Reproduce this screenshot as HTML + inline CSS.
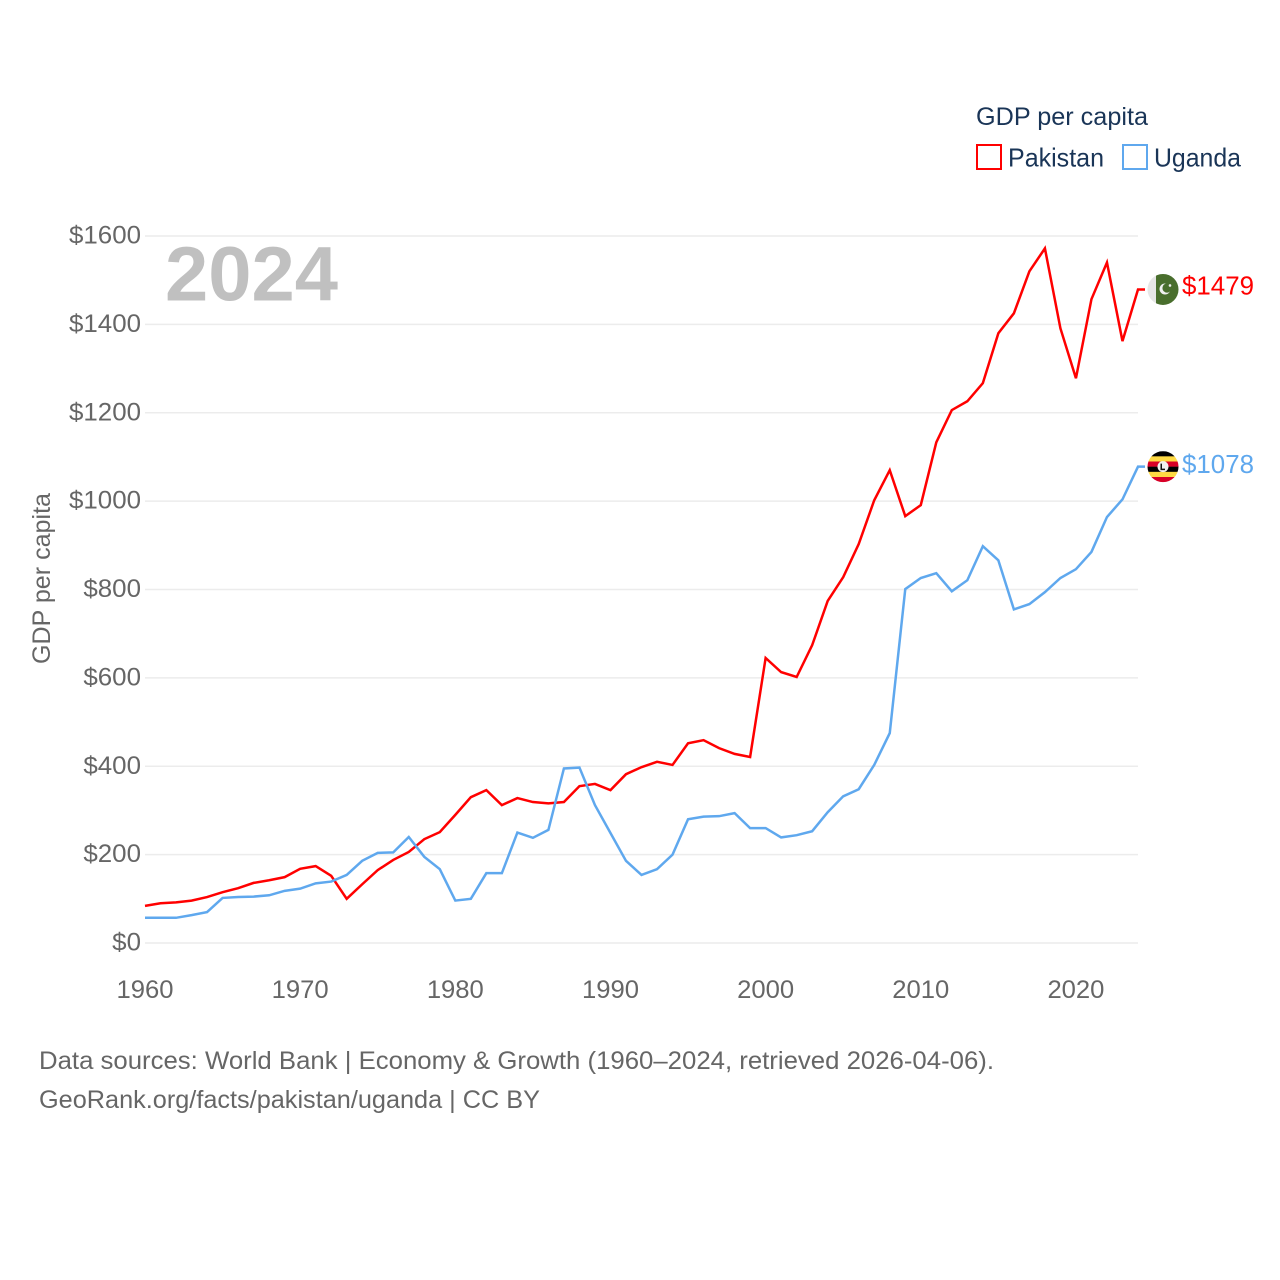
<!DOCTYPE html>
<html lang="en">
<head>
<meta charset="utf-8">
<title>GDP per capita: Pakistan and Uganda</title>
<style>
html,body{margin:0;padding:0;background:#fff}
svg{display:block}
text{font-family:"Liberation Sans",sans-serif}
</style>
</head>
<body>
<svg id="chart" width="1280" height="1280" viewBox="0 0 1280 1280" xmlns="http://www.w3.org/2000/svg">
  <rect x="0" y="0" width="1280" height="1280" fill="#fff"/>
  <g id="grid"></g>
  <g id="yticks"></g>
  <g id="xticks"></g>
  <text x="165" y="300.5" font-size="77" font-weight="700" fill="#c0c0c0" textLength="173" lengthAdjust="spacingAndGlyphs">2024</text>
  <text transform="translate(50 578.5) rotate(-90)" text-anchor="middle" font-size="25" fill="#666" textLength="171" lengthAdjust="spacingAndGlyphs">GDP per capita</text>
  <g id="series"></g>
  <g>
    <text x="976" y="125" font-size="25" fill="#1a3557" textLength="172" lengthAdjust="spacingAndGlyphs">GDP per capita</text>
    <g>
      <rect x="977" y="145" width="24" height="24" fill="none" stroke="#ff0000" stroke-width="2"/>
      <text x="1008" y="166.5" font-size="26" fill="#1a3557" textLength="96" lengthAdjust="spacingAndGlyphs">Pakistan</text>
    </g>
    <g>
      <rect x="1123" y="145" width="24" height="24" fill="none" stroke="#5fa8ee" stroke-width="2"/>
      <text x="1154" y="166.5" font-size="26" fill="#1a3557" textLength="87" lengthAdjust="spacingAndGlyphs">Uganda</text>
    </g>
  </g>
  <g>
    <text x="39" y="1069" font-size="25" fill="#666" textLength="955" lengthAdjust="spacingAndGlyphs">Data sources: World Bank | Economy &amp; Growth (1960–2024, retrieved 2026-04-06).</text>
    <text x="39" y="1108" font-size="25" fill="#666" textLength="501" lengthAdjust="spacingAndGlyphs">GeoRank.org/facts/pakistan/uganda | CC BY</text>
  </g>
</svg>
<script>
const startYear = 1960;
const yTickValues = [0, 200, 400, 600, 800, 1000, 1200, 1400, 1600];
const yTickLabels = ["$0", "$200", "$400", "$600", "$800", "$1000", "$1200", "$1400", "$1600"];
const xTickValues = [1960, 1970, 1980, 1990, 2000, 2010, 2020];
const xTickLabels = ["1960", "1970", "1980", "1990", "2000", "2010", "2020"];
const pakistanValues = [84,90,92,96,104,115,124,136,142,149,168,174,152,100,133,165,188,206,235,251,290,330,346,312,328,319,316,319,355,360,346,382,398,410,403,452,459,441,428,421,645,613,602,674,774,828,903,1002,1070,966,991,1133,1206,1226,1267,1380,1425,1520,1572,1391,1278,1457,1540,1362,1479];
const ugandaValues = [57,57,57,63,70,102,104,105,108,118,123,135,139,154,186,204,205,240,195,167,96,100,158,158,250,238,256,395,397,312,249,186,154,167,200,280,286,287,294,260,260,239,244,253,296,332,348,403,475,801,826,837,796,821,898,866,755,767,794,826,846,885,964,1004,1078];

const NS = "http://www.w3.org/2000/svg";
function xScale(year){ return 145 + (year - 1960) * (1138 - 145) / 64; }
function yScale(v){ return 943 - v * (943 - 236) / 1600; }
function make(tag, attrs, parent){
  const el = document.createElementNS(NS, tag);
  for (const k in attrs) el.setAttribute(k, attrs[k]);
  parent.appendChild(el);
  return el;
}

const gridG = document.getElementById("grid");
const yG = document.getElementById("yticks");
yTickValues.forEach(function(v, i){
  const line = make("line", {x1:145, x2:1138, y1:yScale(v), y2:yScale(v), stroke:"#ececec", "stroke-width":1.5}, gridG);
  
  
  const t = make("text", {x:141, y:yScale(v) + 7.5, "text-anchor":"end", "font-size":25, fill:"#666"}, yG);
  
  
  t.setAttribute('textLength', String(yTickLabels[i].length * 14.4));
  t.setAttribute('lengthAdjust', 'spacingAndGlyphs');
  t.textContent = yTickLabels[i];
});

const xG = document.getElementById("xticks");
xTickValues.forEach(function(y, i){
  const t = make("text", {x:xScale(y), y:998, "text-anchor":"middle", "font-size":25, fill:"#666"}, xG);
  
  
  t.setAttribute('textLength', '57');
  t.setAttribute('lengthAdjust', 'spacingAndGlyphs');
  t.textContent = xTickLabels[i];
});

function linePath(values){
  let d = "";
  values.forEach(function(v, i){
    d += (i ? "L" : "M") + xScale(startYear + i).toFixed(2) + " " + yScale(v).toFixed(2);
  });
  const last = values[values.length - 1];
  d += "L" + (xScale(startYear + values.length - 1) + 7).toFixed(2) + " " + yScale(last).toFixed(2);
  return d;
}

const seriesG = document.getElementById("series");
const pakLine = make("path", {d:linePath(pakistanValues), fill:"none", stroke:"#ff0000", "stroke-width":2.5, "stroke-linejoin":"miter"}, seriesG);


const ugaLine = make("path", {d:linePath(ugandaValues), fill:"none", stroke:"#5fa8ee", "stroke-width":2.5, "stroke-linejoin":"miter"}, seriesG);



let clipCount = 0;
function flagGroup(cy){
  const g = make("g", {}, seriesG);
  const defs = make("defs", {}, g);
  clipCount += 1;
  const id = "flagclip" + clipCount;
  const cp = make("clipPath", {id:id}, defs);
  make("circle", {cx:1163, cy:cy, r:15.5}, cp);
  return make("g", {"clip-path":"url(#" + id + ")"}, g);
}

// Pakistan end label
const pakLast = pakistanValues[pakistanValues.length - 1];
const pakY = yScale(pakLast);
const pakFlag = flagGroup(pakY);


make("rect", {x:1147, y:pakY - 16, width:9, height:32, fill:"#e6e6e6"}, pakFlag);
make("rect", {x:1156, y:pakY - 16, width:23, height:32, fill:"#496e2d"}, pakFlag);
make("circle", {cx:1165, cy:pakY - 0.5, r:5.5, fill:"#f0f0f0"}, pakFlag);
make("circle", {cx:1167, cy:pakY - 1.5, r:4.6, fill:"#496e2d"}, pakFlag);
make("circle", {cx:1170, cy:pakY - 4, r:1.3, fill:"#f0f0f0"}, pakFlag);
const pakLabel = make("text", {x:1182, y:pakY + 5, "font-size":26, fill:"#ff0000", textLength:72, lengthAdjust:"spacingAndGlyphs"}, seriesG);


pakLabel.textContent = "$" + pakLast;

// Uganda end label
const ugaLast = ugandaValues[ugandaValues.length - 1];
const ugaY = yScale(ugaLast);
const ugaFlag = flagGroup(ugaY);


const stripeColors = ["#000000", "#ffda44", "#d80027", "#000000", "#ffda44", "#d80027"];
stripeColors.forEach(function(c, i){
  make("rect", {x:1147, y:ugaY - 15.5 + i * 5.17, width:32, height:5.4, fill:c}, ugaFlag);
});
make("circle", {cx:1163, cy:ugaY, r:5.5, fill:"#f0f0f0"}, ugaFlag);
make("path", {d:"M1162 " + (ugaY - 3) + "v5h3v1.5h-4.5v-6.5z", fill:"#111"}, ugaFlag);
const ugaLabel = make("text", {x:1182, y:ugaY + 6.5, "font-size":26, fill:"#5fa8ee", textLength:72, lengthAdjust:"spacingAndGlyphs"}, seriesG);


ugaLabel.textContent = "$" + ugaLast;
</script>
</body>
</html>
